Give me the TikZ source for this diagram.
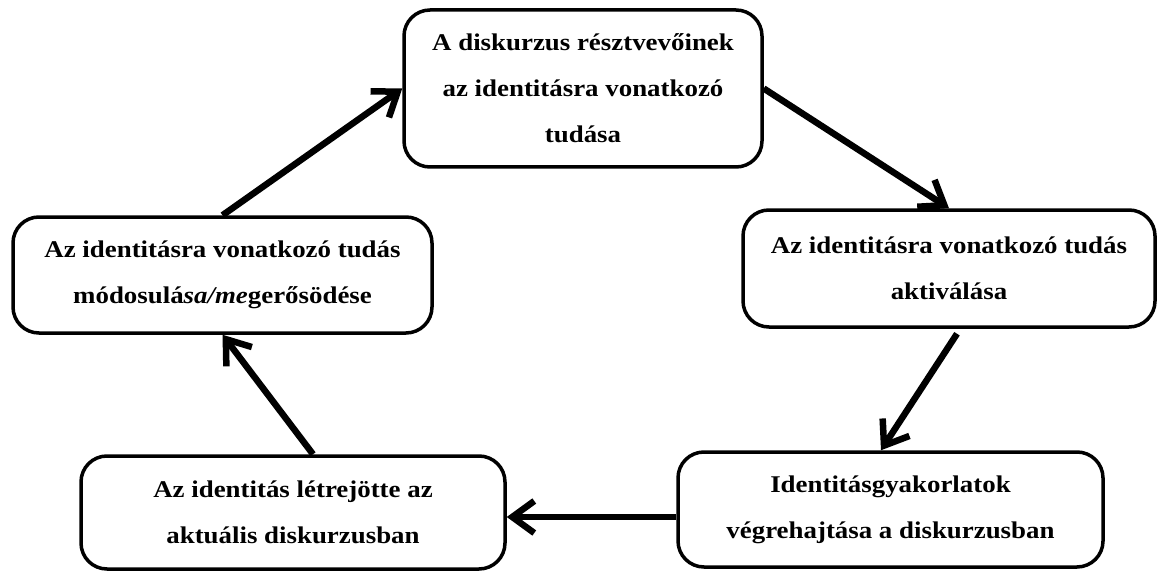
\documentclass[tikz,border=0pt]{standalone}
\usepackage{fontspec}
\setmainfont{Liberation Serif}[FakeStretch=1.12]
\usetikzlibrary{arrows.meta}
\begin{document}
\begin{tikzpicture}[x=1pt,y=-1pt,
  box/.style={draw, line width=3.5pt, rounded corners=26pt, inner sep=0pt, align=center,
    font=\fontsize{24}{46}\selectfont\bfseries},
  flow/.style={line width=6.5pt, -{Straight Barb[length=22pt,width=32pt]}}]
\useasboundingbox (0,0) rectangle (1158,572);
\node[box, minimum width=358pt, minimum height=157pt] (top) at (583,88.5)
  {A diskurzus résztvevőinek\\az identitásra vonatkozó\\tudása};
\node[box, minimum width=412pt, minimum height=117pt] (right) at (949,268.5)
  {Az identitásra vonatkozó tudás\\aktiválása};
\node[box, minimum width=425pt, minimum height=115pt] (br) at (890.5,509.5)
  {Identitásgyakorlatok\\végrehajtása a diskurzusban};
\node[box, minimum width=424pt, minimum height=113pt] (bl) at (293,512.5)
  {Az identitás létrejötte az\\aktuális diskurzusban};
\node[box, minimum width=419pt, minimum height=116pt] (left) at (222.5,275)
  {Az identitásra vonatkozó tudás\\módosulá\textit{sa/me}gerősödése};
\draw[flow] (left.north) -- (top.west);
\draw[flow] (top.east) -- (right.north);
\draw[flow] ([xshift=8pt,yshift=-5pt]right.south) -- ([xshift=-9.5pt]br.north);
\draw[flow] ([yshift=-7.5pt]br.west) -- ([yshift=-4.5pt]bl.east);
\draw[flow] ([xshift=20pt]bl.north) -- (left.south);
\end{tikzpicture}
\end{document}
